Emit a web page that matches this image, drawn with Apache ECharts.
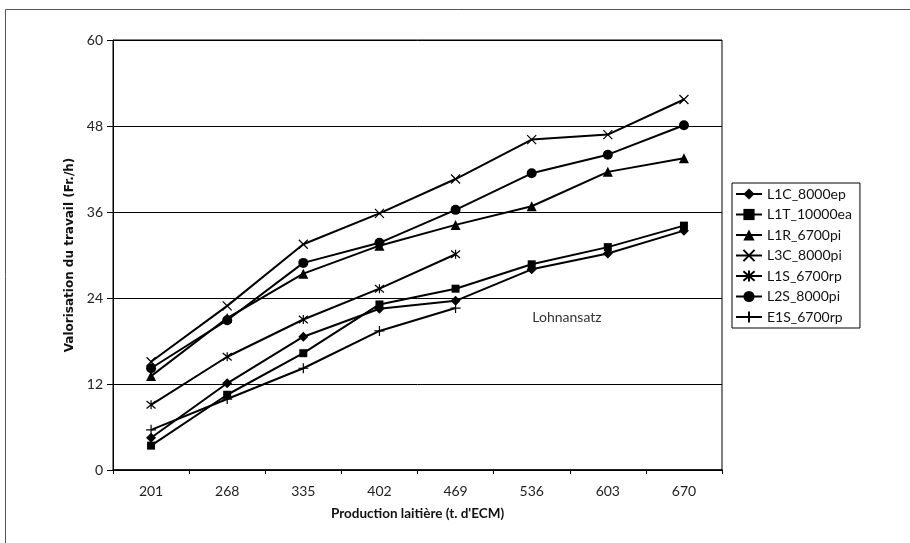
<!DOCTYPE html>
<html>
<head>
<meta charset="utf-8">
<script src="https://cdn.jsdelivr.net/npm/echarts@6/dist/echarts.min.js"></script>
<style>
  html, body { margin: 0; padding: 0; background: #fff; }
  #chart { width: 910px; height: 543px; }
</style>
</head>
<body>
<div id="chart"></div>
<script>
// production laitiere (t. d'ECM)
const categories = ['201', '268', '335', '402', '469', '536', '603', '670']
const yTicks = [0, 12, 24, 36, 48, 60]

const l1c8000ep = [4.5, 12.1, 18.6, 22.5, 23.6, 28.0, 30.2, 33.4]
const l1t10000ea = [3.4, 10.5, 16.3, 23.1, 25.3, 28.7, 31.1, 34.1]
const l1r6700pi = [13.1, 21.2, 27.4, 31.3, 34.2, 36.8, 41.6, 43.5]
const l3c8000pi = [15.1, 22.9, 31.5, 35.8, 40.6, 46.1, 46.8, 51.7]
const l1s6700rp = [9.1, 15.8, 21.0, 25.3, 30.1, null, null, null]
const l2s8000pi = [14.2, 20.9, 28.9, 31.7, 36.3, 41.4, 44.0, 48.1]
const e1s6700rp = [5.6, 9.9, 14.2, 19.4, 22.6, null, null, null]

const font = 'Lato, "Open Sans", sans-serif'

// stroked marker shapes
const crossX = 'path://M0,0 L10,10 M10,0 L0,10'
const star = 'path://M0,0 L10,10 M10,0 L0,10 M5,-1 L5,11'
const plus = 'path://M5,0 L5,10 M0,5 L10,5'

function line(name, data, symbol, size, stroked) {
  return {
    name: name,
    type: 'line',
    data: data,
    symbol: symbol,
    symbolSize: size,
    showAllSymbol: true,
    connectNulls: false,
    animation: false,
    lineStyle: { color: '#000', width: 2 },
    itemStyle: stroked
      ? { color: '#000', borderColor: '#000', borderWidth: 1.2 }
      : { color: '#000', borderWidth: 0 },
    emphasis: { disabled: true }
  }
}

const chart = echarts.init(document.getElementById('chart'))
chart.setOption({
  backgroundColor: '#fff',
  textStyle: { fontFamily: font },
  graphic: [
    {
      type: 'rect',
      shape: { x: 5.5, y: 9.5, width: 1000, height: 1000 },
      style: { fill: 'none', stroke: '#555', lineWidth: 1 },
      silent: true
    },
    {
      type: 'text',
      x: 567,
      y: 317,
      style: {
        text: 'Lohnansatz',
        fill: '#333',
        font: '14px ' + font,
        textAlign: 'center',
        textVerticalAlign: 'middle'
      },
      silent: true
    }
  ],
  grid: {
    left: 113,
    right: 188,
    top: 40,
    bottom: 73,
    show: true,
    borderColor: '#000',
    borderWidth: 1
  },
  legend: {
    orient: 'vertical',
    left: 732,
    top: 183,
    padding: [4, 8, 4, 3],
    itemWidth: 26,
    itemHeight: 14,
    itemGap: 6.5,
    borderColor: '#000',
    borderWidth: 1,
    textStyle: { fontSize: 14, color: '#111', fontFamily: font },
    data: ['L1C_8000ep', 'L1T_10000ea', 'L1R_6700pi', 'L3C_8000pi', 'L1S_6700rp', 'L2S_8000pi', 'E1S_6700rp']
  },
  xAxis: {
    type: 'category',
    data: categories,
    boundaryGap: true,
    name: 'Production laitière (t. d\'ECM)',
    nameLocation: 'middle',
    nameGap: 37,
    nameTextStyle: { fontSize: 13.5, fontWeight: 'bold', color: '#111' },
    axisLine: { lineStyle: { color: '#000', width: 1.5 } },
    axisTick: { show: true, length: 4, lineStyle: { color: '#000' } },
    axisLabel: { margin: 14, fontSize: 14, color: '#222' },
    splitLine: { show: false }
  },
  yAxis: {
    type: 'value',
    min: yTicks[0],
    max: yTicks[yTicks.length - 1],
    interval: 12,
    name: 'Valorisation du travail (Fr./h)',
    nameLocation: 'middle',
    nameGap: 36,
    nameTextStyle: {
      fontSize: 12,
      fontWeight: 'bold',
      color: '#111',
      fontFamily: '"DejaVu Sans", Verdana, sans-serif'
    },
    axisLine: { show: true, lineStyle: { color: '#000', width: 1 } },
    axisTick: { show: true, length: 6, lineStyle: { color: '#000' } },
    axisLabel: { margin: 10, fontSize: 14, color: '#222' },
    splitLine: { show: true, lineStyle: { color: '#000', width: 1 } }
  },
  series: [
    line('L1C_8000ep', l1c8000ep, 'diamond', 10, false),
    line('L1T_10000ea', l1t10000ea, 'rect', 8, false),
    line('L1R_6700pi', l1r6700pi, 'triangle', 10, false),
    line('L3C_8000pi', l3c8000pi, crossX, 9, true),
    line('L1S_6700rp', l1s6700rp, star, 9, true),
    line('L2S_8000pi', l2s8000pi, 'circle', 10, false),
    line('E1S_6700rp', e1s6700rp, plus, 10, true)
  ]
})
</script>
</body>
</html>
